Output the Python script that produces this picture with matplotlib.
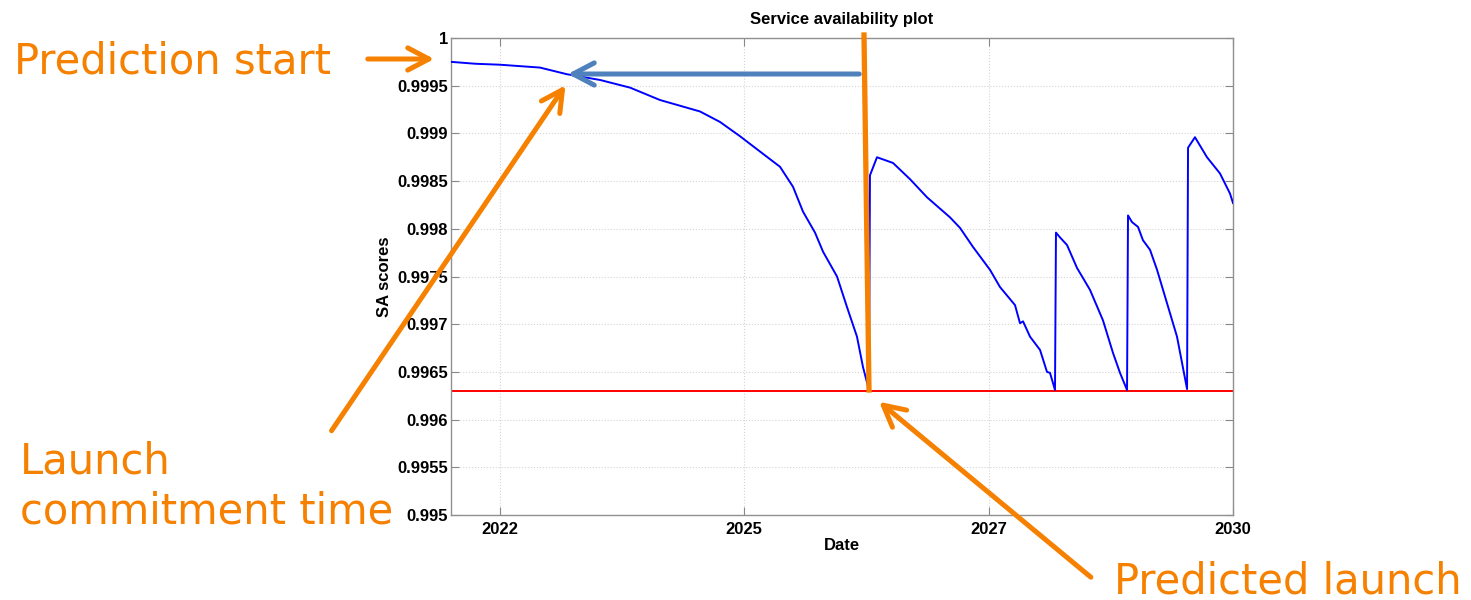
import numpy as np
import matplotlib.pyplot as plt
from matplotlib.patches import FancyArrowPatch
from matplotlib.lines import Line2D

# service availability prediction (decimal years)
years = [2022.000, 2022.250, 2022.501, 2022.910, 2023.187, 2023.525, 2023.831,
         2024.138, 2024.547, 2024.752, 2024.957, 2025.161, 2025.366, 2025.499,
         2025.601, 2025.724, 2025.806, 2025.949, 2026.051, 2026.153, 2026.215,
         2026.276, 2026.286, 2026.358, 2026.522, 2026.696, 2026.870, 2027.105,
         2027.207, 2027.340, 2027.514, 2027.616, 2027.770, 2027.821, 2027.852,
         2027.923, 2028.026, 2028.097, 2028.128, 2028.179, 2028.189, 2028.230,
         2028.302, 2028.404, 2028.537, 2028.670, 2028.772, 2028.844, 2028.916,
         2028.926, 2028.967, 2029.028, 2029.079, 2029.151, 2029.223, 2029.325,
         2029.427, 2029.530, 2029.540, 2029.611, 2029.734, 2029.867, 2029.969,
         2030.000]
sa_scores = [0.99975, 0.99973, 0.99972, 0.99969, 0.99962, 0.99956, 0.99948,
             0.99935, 0.99923, 0.99912, 0.99897, 0.99881, 0.99865, 0.99844,
             0.99818, 0.99796, 0.99776, 0.99750, 0.99718, 0.99687, 0.99655,
             0.99631, 0.99856, 0.99875, 0.99869, 0.99852, 0.99833, 0.99812,
             0.99801, 0.99781, 0.99757, 0.99739, 0.99720, 0.99701, 0.99703,
             0.99687, 0.99673, 0.99650, 0.99649, 0.99631, 0.99796, 0.99791,
             0.99783, 0.99759, 0.99736, 0.99704, 0.99670, 0.99649, 0.99631,
             0.99814, 0.99807, 0.99802, 0.99788, 0.99778, 0.99757, 0.99722,
             0.99687, 0.99632, 0.99885, 0.99896, 0.99875, 0.99858, 0.99837,
             0.99827]
threshold = 0.9963

x_ticks = [2022.5, 2025.0, 2027.5, 2030.0]
x_tick_labels = ['2022', '2025', '2027', '2030']
y_ticks = np.arange(0.995, 1.00001, 0.0005)

W, H = 1471, 600
fig = plt.figure(figsize=(W / 100, H / 100), dpi=100)
ax = fig.add_axes([451 / W, 1 - 515 / H, (1233 - 451) / W, (515 - 38) / H])

ax.plot(years, sa_scores, color='#0000ff', lw=1.4, zorder=3)
ax.axhline(threshold, color='#ff0000', lw=1.4, zorder=2)

ax.set_xlim(2022, 2030)
ax.set_ylim(0.995, 1.0)
ax.set_xticks(x_ticks)
ax.set_xticklabels(x_tick_labels)
ax.set_yticks(y_ticks)
ax.set_yticklabels(['%g' % round(v, 4) for v in y_ticks])

axfont = dict(family='Liberation Sans', weight='bold', size=12)
for lab in ax.get_xticklabels() + ax.get_yticklabels():
    lab.set_fontproperties('Liberation Sans')
    lab.set_fontweight('bold')
    lab.set_fontsize(12)
ax.set_title('Service availability plot', pad=10, **axfont)
ax.set_xlabel('Date', labelpad=1, **axfont)
ax.set_ylabel('SA scores', labelpad=4, **axfont)

ax.grid(True, color='#d4d4d4', ls=':', lw=0.8)
ax.tick_params(direction='in', length=6, color='#888888', top=True, right=True)
ax.tick_params(axis='y', pad=2)
ax.tick_params(axis='x', pad=5)
for sp in ax.spines.values():
    sp.set_color('#909090')
    sp.set_linewidth(1.0)

# overlay annotations, placed in figure pixels
def fpx(x, y):
    return (x / W, 1 - y / H)

orange = '#f68000'

def arrow(p0, p1, color):
    a = FancyArrowPatch(fpx(*p0), fpx(*p1), transform=fig.transFigure,
                        arrowstyle='->,head_length=0.38,head_width=0.2',
                        mutation_scale=40, lw=3.6, color=color,
                        capstyle='round', joinstyle='round', zorder=10)
    fig.add_artist(a)

arrow((365, 59), (437, 59), orange)
arrow((330, 433), (567, 83), orange)
arrow((1093, 579), (877, 400), orange)
arrow((862, 74), (565, 74), '#4f81bd')

vline = Line2D([864 / W, 869 / W], [1 - 35 / H, 1 - 390 / H],
               transform=fig.transFigure, color=orange, lw=3.8, zorder=10)
fig.add_artist(vline)

tfont = dict(family='DejaVu Sans', size=30, color=orange)
fig.text(*fpx(14, 74), 'Prediction start', va='baseline', **tfont)
fig.text(*fpx(20, 474), 'Launch', va='baseline', **tfont)
fig.text(*fpx(20, 524), 'commitment time', va='baseline', **tfont)
fig.text(*fpx(1114, 593), 'Predicted launch', va='baseline', **tfont)

fig.savefig('out.png', dpi=100)
